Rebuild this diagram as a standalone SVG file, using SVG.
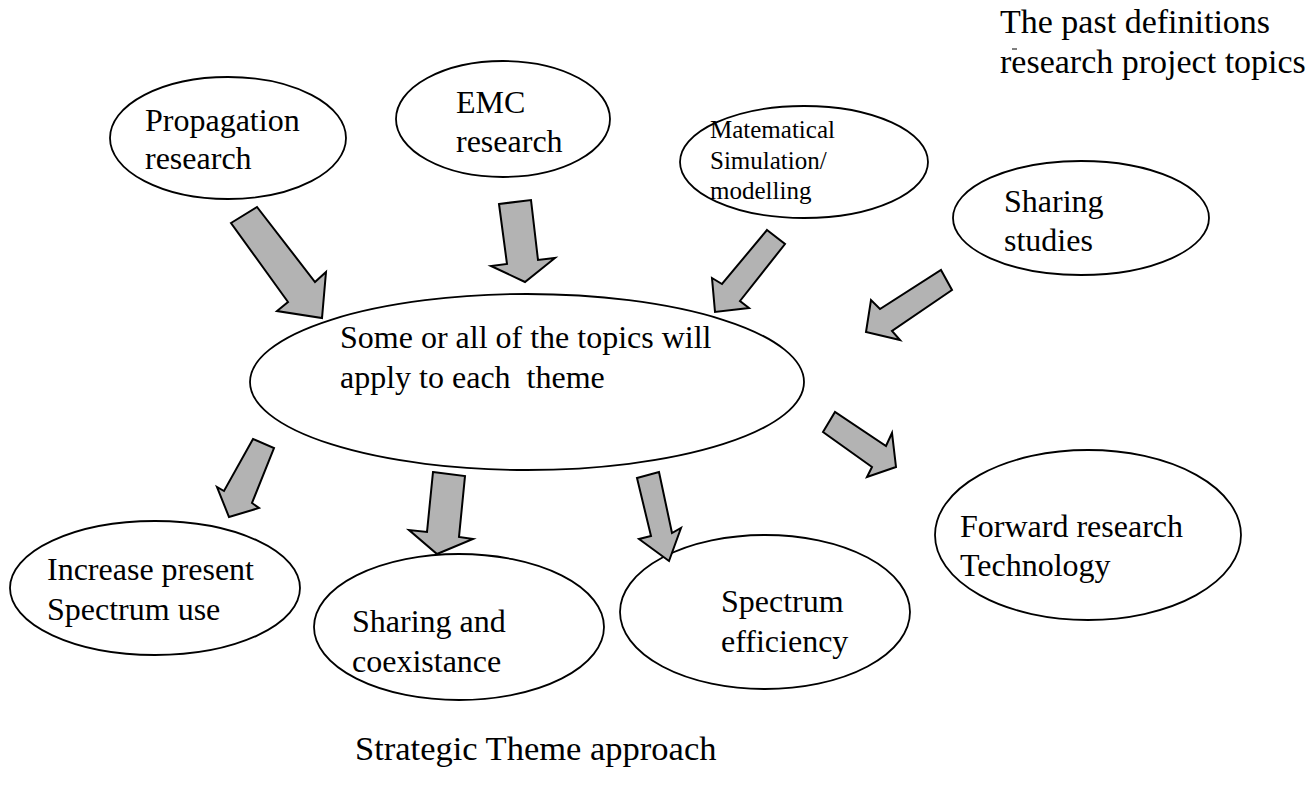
<svg xmlns="http://www.w3.org/2000/svg" width="1313" height="791" viewBox="0 0 1313 791">
<style>
.n{fill:#ffffff;stroke:#000000;stroke-width:1.8}
.a{fill:#b3b3b3;stroke:#000000;stroke-width:2;stroke-linejoin:miter}
text{font-family:"Liberation Serif","Times New Roman",serif;font-size:32px;fill:#000000;white-space:pre}
.s{font-size:25px}
.t{font-size:34px}
.b{font-size:34.5px}
</style>
<rect width="1313" height="791" fill="#ffffff"/>
<g id="title">
<text class="t" x="1000" y="33">The past definitions</text>
<line x1="1012" y1="49" x2="1017" y2="49" stroke="#000" stroke-width="1"/>
<text class="t" x="1000" y="73">research project topics</text>
</g>
<g id="propagation">
<ellipse class="n" cx="228" cy="138" rx="118" ry="61"/>
<text x="145" y="131">Propagation</text>
<text x="145" y="169">research</text>
</g>
<g id="emc">
<ellipse class="n" cx="503" cy="119" rx="107" ry="58"/>
<text x="456" y="113">EMC</text>
<text x="456" y="152">research</text>
</g>
<g id="mathematical">
<ellipse class="n" cx="804" cy="162" rx="124" ry="56"/>
<text class="s" x="710" y="138">Matematical</text>
<text class="s" x="710" y="169">Simulation/</text>
<text class="s" x="710" y="199">modelling</text>
</g>
<g id="sharing-studies">
<ellipse class="n" cx="1081" cy="218" rx="128" ry="57"/>
<text x="1004" y="212">Sharing</text>
<text x="1004" y="251">studies</text>
</g>
<g id="central">
<ellipse class="n" cx="527" cy="382" rx="277" ry="88"/>
<text x="340" y="348">Some or all of the topics will</text>
<text x="340" y="388">apply to each  theme</text>
</g>
<g id="increase">
<ellipse class="n" cx="155" cy="588" rx="145" ry="67"/>
<text x="47" y="580">Increase present</text>
<text x="47" y="620">Spectrum use</text>
</g>
<g id="sharing-coexistance">
<ellipse class="n" cx="459" cy="627" rx="145" ry="73"/>
<text x="352" y="632">Sharing and</text>
<text x="352" y="672">coexistance</text>
</g>
<g id="spectrum-efficiency">
<ellipse class="n" cx="765" cy="612" rx="145" ry="77"/>
<text x="721" y="612">Spectrum</text>
<text x="721" y="652">efficiency</text>
</g>
<g id="forward">
<ellipse class="n" cx="1088" cy="535" rx="153" ry="85"/>
<text x="960" y="537">Forward research</text>
<text x="960" y="576">Technology</text>
</g>
<g id="caption">
<text class="b" x="355" y="760">Strategic Theme approach</text>
</g>
<g id="connectors">
<polygon class="a" points="231,223 257,207 315,282 326,272 322,318 277,311 288,302"/>
<polygon class="a" points="499,204 531,200 538,260 555,258 525,282 491,266 507,264"/>
<polygon class="a" points="767,230 785,244 740,301 749,308 715,312 712,278 722,284"/>
<polygon class="a" points="941,270 952,290 892,331 900,340 866,332 871,300 880,309"/>
<polygon class="a" points="253,439 274,448 252,503 259,508 229,517 217,487 224,491"/>
<polygon class="a" points="433,472 465,476 459,537 473,539 437,554 409,530 427,532"/>
<polygon class="a" points="637,478 659,472 672,533 681,528 669,561 639,539 651,536"/>
<polygon class="a" points="823,432 835,412 886,446 892,433 896,467 867,477 872,467"/>
</g>
</svg>
